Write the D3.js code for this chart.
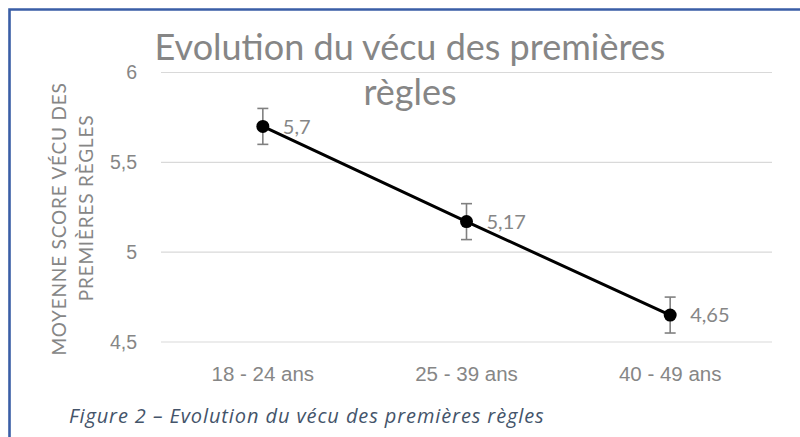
<!DOCTYPE html>
<html>
<head>
<meta charset="utf-8">
<script src="https://cdn.jsdelivr.net/npm/d3@7"></script>
<style>
  html, body { margin: 0; padding: 0; background: #fff; }
  svg { display: block; font-family: Lato, "Open Sans", sans-serif; }
</style>
</head>
<body>
<svg id="chart" width="800" height="437"></svg>
<script>
// data
const categories = ['18 - 24 ans', '25 - 39 ans', '40 - 49 ans'];
const means      = [5.7, 5.17, 4.65];
const errors     = [0.1, 0.1, 0.1];
const yTicks     = [4.5, 5, 5.5, 6];
const titleLines = ['Evolution du vécu des premières', 'règles'];
const yTitleLines = ['MOYENNE SCORE VÉCU DES', 'PREMIÈRES RÈGLES'];
const caption = 'Figure 2 – Evolution du vécu des premières règles';

const fmt = v => String(v).replace('.', ',');
const grey = '#868686';

const svg = d3.select('#chart');

// frame (only the top and left edges are in view)
svg.append('path')
  .attr('d', 'M9.5,440 L9.5,9.5 L805,9.5')
  .attr('fill', 'none')
  .attr('stroke', '#3a5ea6')
  .attr('stroke-width', 2.6);

const x = d3.scaleBand().domain(categories).range([161, 772]);
const y = d3.scaleLinear().domain([4.5, 6]).range([342, 72.5]);

// gridlines
svg.append('g')
  .selectAll('line')
  .data(yTicks)
  .join('line')
  .attr('x1', 161).attr('x2', 772)
  .attr('y1', d => y(d)).attr('y2', d => y(d))
  .attr('stroke', '#d9d9d9')
  .attr('stroke-width', 1.2);

// y axis labels
const yAxis = svg.append('g')
  .attr('transform', 'translate(137,0)')
  .call(d3.axisLeft(y).tickValues(yTicks).tickFormat(fmt).tickSize(0).tickPadding(0));
yAxis.select('.domain').remove();
yAxis.selectAll('text')
  .attr('fill', grey)
  .style('font-size', '19.5px');

// x axis labels
const xAxis = svg.append('g')
  .attr('transform', 'translate(0,366)')
  .call(d3.axisBottom(x).tickSize(0).tickPadding(0));
xAxis.select('.domain').remove();
xAxis.selectAll('text')
  .attr('fill', grey)
  .style('font-size', '20.5px');

// title
svg.append('g')
  .selectAll('text')
  .data(titleLines)
  .join('text')
  .attr('x', 410)
  .attr('y', (d, i) => 60 + i * 45)
  .attr('text-anchor', 'middle')
  .attr('fill', grey)
  .style('font-size', '36px')
  .text(d => d);

// y axis title (two lines, second one sits a little higher)
svg.append('g')
  .selectAll('text')
  .data(yTitleLines)
  .join('text')
  .attr('transform', (d, i) => `translate(${66 + i * 27},${219 - i * 11}) rotate(-90)`)
  .attr('text-anchor', 'middle')
  .attr('fill', grey)
  .style('font-size', '19px')
  .style('letter-spacing', '0.8px')
  .text(d => d);

const cx = d => x(d) + x.bandwidth() / 2;
const pts = categories.map((c, i) => ({ c, v: means[i], e: errors[i] }));

// line
svg.append('path')
  .datum(pts)
  .attr('fill', 'none')
  .attr('stroke', '#000')
  .attr('stroke-width', 3)
  .attr('d', d3.line().x(d => cx(d.c)).y(d => y(d.v)));

// error bars
const eb = svg.append('g').attr('stroke', '#808080').attr('stroke-width', 1.6);
pts.forEach(d => {
  const px = cx(d.c);
  eb.append('line').attr('x1', px).attr('x2', px).attr('y1', y(d.v + d.e)).attr('y2', y(d.v - d.e));
  eb.append('line').attr('x1', px - 5.5).attr('x2', px + 5.5).attr('y1', y(d.v + d.e)).attr('y2', y(d.v + d.e));
  eb.append('line').attr('x1', px - 5.5).attr('x2', px + 5.5).attr('y1', y(d.v - d.e)).attr('y2', y(d.v - d.e));
});

// markers
svg.append('g')
  .selectAll('circle')
  .data(pts)
  .join('circle')
  .attr('cx', d => cx(d.c))
  .attr('cy', d => y(d.v))
  .attr('r', 6.5)
  .attr('fill', '#000');

// data labels
svg.append('g')
  .selectAll('text')
  .data(pts)
  .join('text')
  .attr('x', d => cx(d.c) + 20)
  .attr('y', d => y(d.v))
  .attr('dy', '0.36em')
  .attr('fill', grey)
  .style('font-size', '20px')
  .text(d => fmt(d.v));

// caption
svg.append('text')
  .attr('x', 69)
  .attr('y', 423)
  .attr('fill', '#44546a')
  .style('font-family', '"Open Sans", sans-serif')
  .style('font-size', '20px')
  .style('font-style', 'italic')
  .style('letter-spacing', '0.9px')
  .text(caption);
</script>
</body>
</html>
